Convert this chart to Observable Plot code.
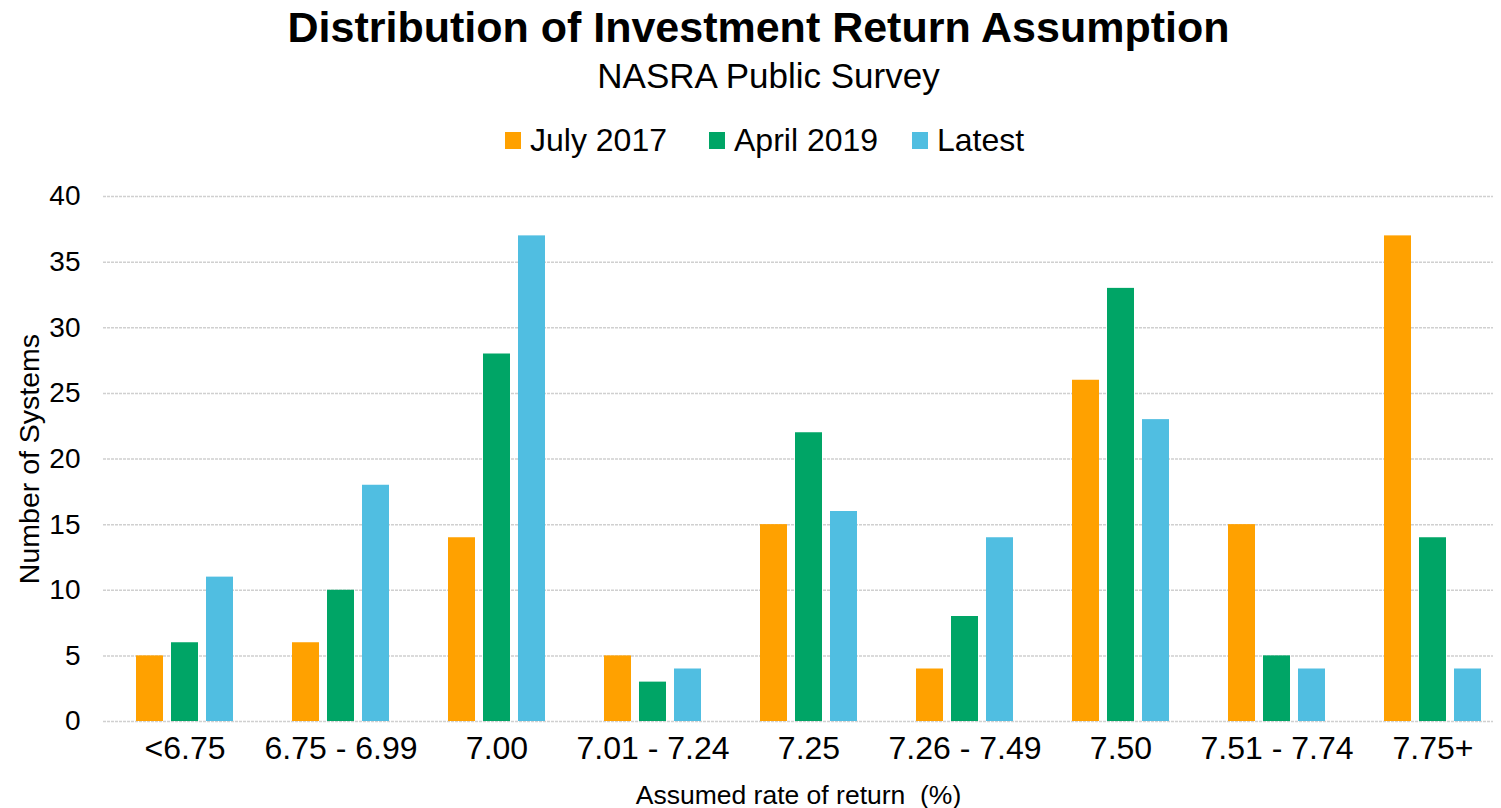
<!DOCTYPE html>
<html>
<head>
<meta charset="utf-8">
<script src="https://cdn.jsdelivr.net/npm/d3@7"></script>
<script src="https://cdn.jsdelivr.net/npm/@observablehq/plot@0.6"></script>
<style>
  body { margin: 0; background: #fff; font-family: "Liberation Sans", Arial, sans-serif; }
  #wrap { position: relative; width: 1501px; height: 808px; overflow: hidden; }
  .t { position: absolute; line-height: 1; white-space: nowrap; color: #000; }
  #title { left: 0; width: 1517px; top: 6px; text-align: center; font-weight: bold; font-size: 43px; }
  #subtitle { left: 0; width: 1537px; top: 58px; text-align: center; font-size: 35px; }
  .sw { position: absolute; width: 16px; height: 17px; top: 132px; }
  .lt { font-size: 32px; top: 124px; }
  #chart { position: absolute; left: 0; top: 175px; }
</style>
</head>
<body>
<div id="wrap">
  <div id="title" class="t">Distribution of Investment Return Assumption</div>
  <div id="subtitle" class="t">NASRA Public Survey</div>
  <div id="legend"></div>
  <div id="chart"></div>
</div>
<script>
const categories = ["<6.75", "6.75 - 6.99", "7.00", "7.01 - 7.24", "7.25", "7.26 - 7.49", "7.50", "7.51 - 7.74", "7.75+"];
const seriesNames = ["July 2017", "April 2019", "Latest"];
const seriesColors = ["#FFA100", "#00A566", "#50BEE1"];
const july2017 = [5, 6, 14, 5, 15, 4, 26, 15, 37];
const april2019 = [6, 10, 28, 3, 22, 8, 33, 5, 14];
const latest = [11, 18, 37, 4, 16, 14, 23, 4, 4];
const yTicks = [0, 5, 10, 15, 20, 25, 30, 35, 40];

const seriesValues = [july2017, april2019, latest];
const offsets = [-35, 0, 35];
const legendSwatchX = [505, 709, 912];

const legend = document.getElementById("legend");
seriesNames.forEach((n, i) => {
  const sw = document.createElement("span");
  sw.className = "sw";
  sw.style.left = legendSwatchX[i] + "px";
  sw.style.background = seriesColors[i];
  legend.appendChild(sw);
  const tx = document.createElement("span");
  tx.className = "t lt";
  tx.style.left = (legendSwatchX[i] + 25) + "px";
  tx.textContent = n;
  legend.appendChild(tx);
});

const bars = seriesValues.map((vals, i) =>
  Plot.barY(categories.map((c, j) => ({cat: c, value: vals[j]})), {
    x: "cat", y: "value", fill: seriesColors[i], dx: offsets[i]
  })
);

const chart = Plot.plot({
  width: 1501,
  height: 633,
  marginLeft: 103,
  marginRight: 8,
  marginTop: 21,
  marginBottom: 87,
  style: { fontFamily: "'Liberation Sans', Arial, sans-serif", fontSize: "32px", color: "#000", background: "#fff" },
  x: { domain: categories, paddingInner: 0.8245, paddingOuter: 0.346, align: 0.595, tickSize: 0, tickPadding: 15,
       label: "Assumed rate of return  (%)", labelAnchor: "center", labelOffset: 82 },
  y: { domain: [0, 40], ticks: yTicks, tickSize: 0, tickPadding: 23,
       label: "Number of Systems", labelAnchor: "center", labelOffset: 85 },
  marks: [
    Plot.ruleY(yTicks, { stroke: "#d0d0d0", strokeWidth: 1.5, strokeDasharray: "3,1" }),
    ...bars
  ]
});
chart.querySelectorAll("text").forEach(t => {
  if (/[↑→←↓]/.test(t.textContent)) t.textContent = t.textContent.replace(/\s*[↑→←↓]\s*/g, "").trim();
});
chart.querySelectorAll("[aria-label='y-axis tick label'] text, [aria-label='y-axis tick label']").forEach(t => t.style.fontSize = "28px");
chart.querySelectorAll("[aria-label='y-axis label'] text, [aria-label='y-axis label']").forEach(t => t.style.fontSize = "28.5px");
chart.querySelectorAll("[aria-label='x-axis label'] text, [aria-label='x-axis label']").forEach(t => t.style.fontSize = "26.5px");
document.getElementById("chart").appendChild(chart);
</script>
</body>
</html>
